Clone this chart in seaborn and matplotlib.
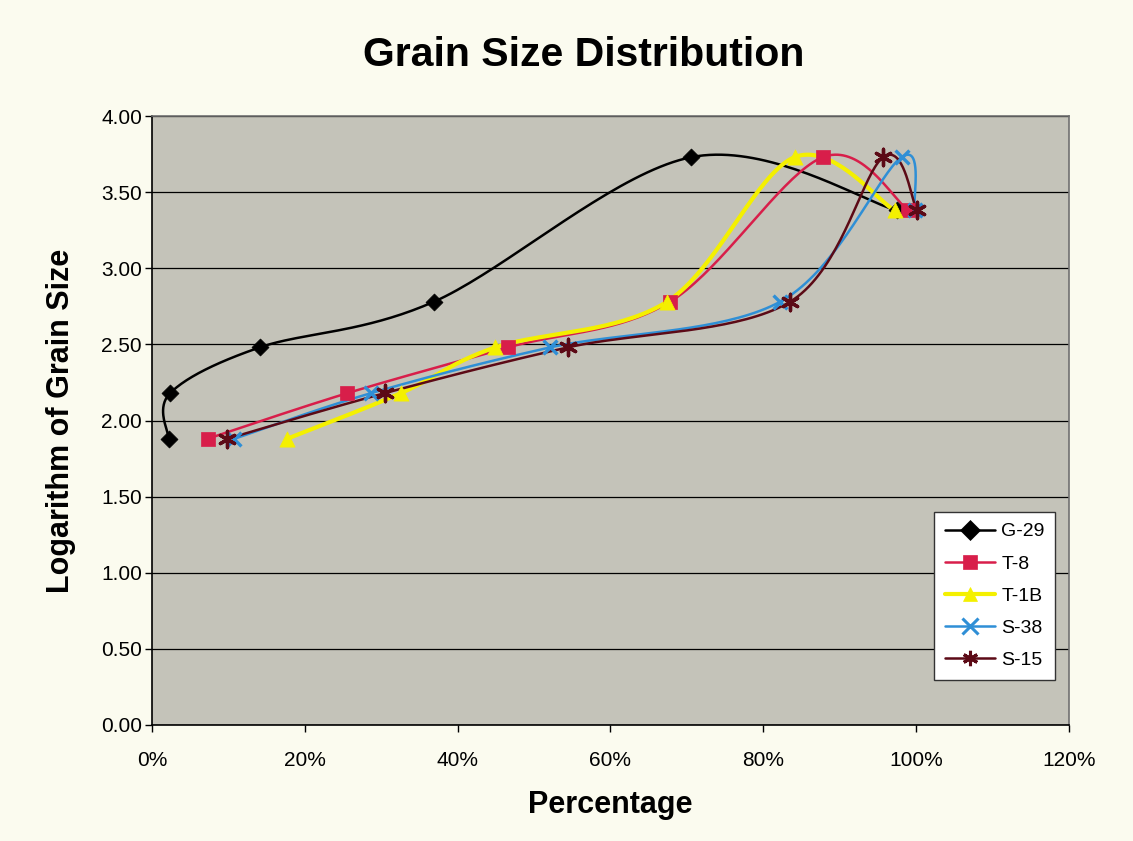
import numpy as np
import pandas as pd
import matplotlib
matplotlib.use("Agg")
import matplotlib.pyplot as plt
import seaborn as sns
from matplotlib.lines import Line2D
from matplotlib.ticker import PercentFormatter, MultipleLocator, FormatStrFormatter

# values
series_names = ["G-29", "T-8", "T-1B", "S-38", "S-15"]
log_size = [1.88, 2.18, 2.48, 2.78, 3.73, 3.38]
pct_g29 = [0.022, 0.024, 0.141, 0.369, 0.706, 0.975]
pct_t8 = [0.073, 0.256, 0.466, 0.678, 0.878, 0.990]
pct_t1b = [0.177, 0.326, 0.449, 0.674, 0.841, 0.972]
pct_s38 = [0.108, 0.287, 0.521, 0.822, 0.981, 0.998]
pct_s15 = [0.099, 0.305, 0.544, 0.835, 0.957, 1.001]

colors = ["#000000", "#d81e4a", "#f4f000", "#2f8fd6", "#5c0a16"]
markers = ["D", "s", "^", "x", (6, 2, 0)]
msizes = [75, 110, 120, 100, 140]


def smooth(xs, ys, n=40):
    # excel-like smoothed line (catmull-rom bezier)
    p = np.column_stack([xs, ys])
    p = np.vstack([p[0], p, p[-1]])
    out = []
    t = np.linspace(0, 1, n)[:, None]
    for i in range(1, len(p) - 2):
        p0, p1, p2, p3 = p[i - 1], p[i], p[i + 1], p[i + 2]
        c1 = p1 + (p2 - p0) / 6
        c2 = p2 - (p3 - p1) / 6
        seg = ((1 - t) ** 3) * p1 + 3 * ((1 - t) ** 2) * t * c1 + 3 * (1 - t) * t ** 2 * c2 + t ** 3 * p2
        out.append(seg if i == 1 else seg[1:])
    return np.vstack(out)


all_pct = [pct_g29, pct_t8, pct_t1b, pct_s38, pct_s15]

sns.set_style("ticks")
plt.rcParams["font.family"] = ["Liberation Sans", "DejaVu Sans"]
plt.rcParams["text.color"] = "black"
plt.rcParams["axes.labelcolor"] = "black"
plt.rcParams["xtick.color"] = "black"
plt.rcParams["ytick.color"] = "black"

fig = plt.figure(figsize=(11.33, 8.41), dpi=100, facecolor="#fbfbef")
ax = fig.add_axes([0.134, 0.138, 0.8095, 0.724])
ax.set_facecolor("#c4c3b9")

for name, pct, col, mk, ms in zip(series_names, all_pct, colors, markers, msizes):
    curve = smooth(pct, log_size)
    df_curve = pd.DataFrame({"pct": curve[:, 0], "logsize": curve[:, 1]})
    lw = 3.0 if name == "T-1B" else 1.8
    sns.lineplot(data=df_curve, x="pct", y="logsize", sort=False, estimator=None,
                 color=col, linewidth=lw, ax=ax, zorder=3)
    df_pts = pd.DataFrame({"pct": pct, "logsize": log_size})
    if mk in ("x", (6, 2, 0)):
        sns.scatterplot(data=df_pts, x="pct", y="logsize", marker=mk, color=col,
                        s=ms, linewidth=2.4, ax=ax, zorder=4)
    else:
        sns.scatterplot(data=df_pts, x="pct", y="logsize", marker=mk, color=col,
                        s=ms, edgecolor=col, linewidth=0.5, ax=ax, zorder=4)

ax.set_xlim(0, 1.2)
ax.set_ylim(0, 4)
ax.xaxis.set_major_locator(MultipleLocator(0.2))
ax.xaxis.set_major_formatter(PercentFormatter(1.0, decimals=0))
ax.yaxis.set_major_locator(MultipleLocator(0.5))
ax.yaxis.set_major_formatter(FormatStrFormatter("%.2f"))
ax.grid(axis="y", color="black", linewidth=0.9)
ax.set_axisbelow(True)
ax.tick_params(axis="both", labelsize=15, direction="out", length=5, width=1, color="black")
ax.tick_params(axis="x", pad=14)
ax.tick_params(axis="y", pad=2)
for s in ["left", "bottom"]:
    ax.spines[s].set_color("black")
    ax.spines[s].set_linewidth(1.2)
for s in ["top", "right"]:
    ax.spines[s].set_color("#707070")
    ax.spines[s].set_linewidth(1.2)

ax.set_xlabel("Percentage", fontsize=22, fontweight="bold", labelpad=14)
ax.set_ylabel("Logarithm of Grain Size", fontsize=22, fontweight="bold", labelpad=18)
fig.suptitle("Grain Size Distribution", fontsize=29.5, fontweight="bold", x=0.515, y=0.957)

handles = []
for name, col, mk in zip(series_names, colors, markers):
    lw = 3.0 if name == "T-1B" else 1.8
    filled = mk not in ("x", (6, 2, 0))
    handles.append(Line2D([0], [0], color=col, linewidth=lw, marker=mk,
                          markersize=10 if filled else 11,
                          markerfacecolor=col, markeredgecolor=col,
                          markeredgewidth=2.2 if not filled else 0.5))
leg = ax.legend(handles, series_names, loc="lower right", bbox_to_anchor=(0.985, 0.074),
                borderaxespad=0, fontsize=14, frameon=True, fancybox=False, handlelength=2.6,
                labelspacing=0.75, handletextpad=0.3, borderpad=0.55)
leg.get_frame().set_facecolor("white")
leg.get_frame().set_edgecolor("#333333")
leg.get_frame().set_alpha(1)

fig.savefig("out.png", dpi=100, facecolor=fig.get_facecolor())
